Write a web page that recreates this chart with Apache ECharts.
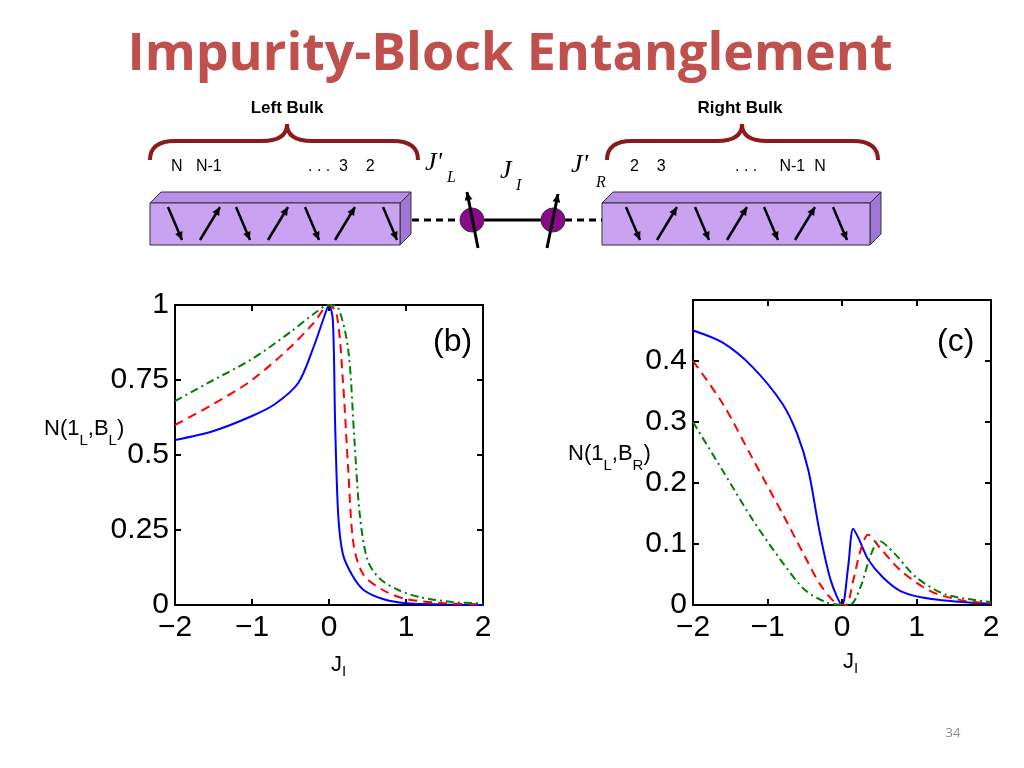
<!DOCTYPE html>
<html><head><meta charset="utf-8">
<script src="https://cdn.jsdelivr.net/npm/echarts@6/dist/echarts.min.js"></script>
<style>html,body{margin:0;padding:0;background:#fff}#c{width:1024px;height:768px}</style>
</head><body><div id="c"></div>
<script>
// Panel (b): N(1_L,B_L) vs J_I
const bBlue = [[-2,0.55],[-1.5,0.58],[-1,0.63],[-0.7,0.67],[-0.4,0.74],[-0.2,0.86],[-0.05,0.97],[0,1.0],[0.05,0.95],[0.08,0.6],[0.12,0.3],[0.18,0.17],[0.3,0.1],[0.45,0.05],[0.7,0.02],[1,0.006],[1.5,0.002],[2,0]];
const bRed = [[-2,0.6],[-1.5,0.67],[-1,0.75],[-0.5,0.86],[-0.2,0.94],[0,1.0],[0.1,0.97],[0.18,0.75],[0.25,0.45],[0.32,0.2],[0.45,0.1],[0.7,0.05],[1,0.02],[1.5,0.006],[2,0.002]];
const bGreen = [[-2,0.68],[-1.5,0.75],[-1,0.82],[-0.5,0.91],[-0.2,0.97],[0,1.0],[0.12,0.99],[0.25,0.85],[0.33,0.55],[0.4,0.3],[0.5,0.15],[0.65,0.09],[0.9,0.05],[1.2,0.025],[1.6,0.01],[2,0.005]];
// Panel (c): N(1_L,B_R) vs J_I
const cBlue = [[-2,0.45],[-1.6,0.43],[-1.2,0.39],[-0.8,0.33],[-0.6,0.28],[-0.45,0.22],[-0.3,0.12],[-0.15,0.04],[0,0],[0.08,0.06],[0.15,0.125],[0.22,0.11],[0.35,0.075],[0.55,0.045],[0.8,0.022],[1.2,0.01],[2,0.002]];
const cRed = [[-2,0.40],[-1.6,0.33],[-1.2,0.24],[-0.8,0.15],[-0.5,0.08],[-0.3,0.035],[-0.1,0.005],[0.05,0],[0.15,0.04],[0.25,0.09],[0.35,0.115],[0.5,0.095],[0.8,0.055],[1.2,0.022],[1.6,0.008],[2,0.003]];
const cGreen = [[-2,0.30],[-1.6,0.22],[-1.2,0.14],[-0.8,0.07],[-0.5,0.025],[-0.2,0.004],[0.1,0],[0.25,0.03],[0.38,0.08],[0.5,0.105],[0.7,0.085],[1,0.045],[1.4,0.017],[2,0.005]];

const grids = [{left:175,top:305,width:308,height:300},{left:693,top:300,width:298,height:305}];
const lab = {fontFamily:'Liberation Sans Narrow, Liberation Sans',fontSize:30,color:'#000'};
const AL={onZero:false,lineStyle:{color:'#000',width:2}};
const AT={show:true,inside:true,length:6,lineStyle:{color:'#000',width:2}};
function xAxes(g){return [
 {type:'value',gridIndex:g,min:-2,max:2,interval:1,position:'bottom',axisLine:AL,axisTick:AT,splitLine:{show:false},axisLabel:Object.assign({margin:8,formatter:v=>String(v).replace('-','\u2212')},lab)},
 {type:'value',gridIndex:g,min:-2,max:2,interval:1,position:'top',axisLine:AL,axisTick:AT,splitLine:{show:false},axisLabel:{show:false}}];}
function yAxes(g,max,int,fmt){return [
 {type:'value',gridIndex:g,min:0,max:max,interval:int,position:'left',axisLine:Object.assign({show:true},AL),axisTick:AT,splitLine:{show:false},axisLabel:Object.assign({margin:6,formatter:fmt},lab)},
 {type:'value',gridIndex:g,min:0,max:max,interval:int,position:'right',axisLine:Object.assign({show:true},AL),axisTick:AT,splitLine:{show:false},axisLabel:{show:false}}];}
function ser(data,xi,yi,color,type){return {type:'line',xAxisIndex:xi,yAxisIndex:yi,data:data,showSymbol:false,smooth:0.3,lineStyle:{color:color,width:2,type:type},z:3};}
const dashdot=[8,4,2,4];

const purple='#c9a3f2';
const g=[];
function box(x0,x1,y0,y1,d){
 g.push({type:'polygon',shape:{points:[[x0,y0],[x0+d,y0-d],[x1+d,y0-d],[x1,y0]]},style:{fill:'#b78ee8',stroke:'#333',lineWidth:1}});
 g.push({type:'polygon',shape:{points:[[x1,y0],[x1+d,y0-d],[x1+d,y1-d],[x1,y1]]},style:{fill:'#9f76d6',stroke:'#333',lineWidth:1}});
 g.push({type:'rect',shape:{x:x0,y:y0,width:x1-x0,height:y1-y0},style:{fill:purple,stroke:'#333',lineWidth:1}});
}
function arrow(x1,y1,x2,y2,w){
 g.push({type:'line',shape:{x1:x1,y1:y1,x2:x2,y2:y2},style:{stroke:'#000',lineWidth:w||2.5},z:10});
 const a=Math.atan2(y2-y1,x2-x1),L=9,s=0.45;
 g.push({type:'polygon',shape:{points:[[x2,y2],[x2-L*Math.cos(a-s),y2-L*Math.sin(a-s)],[x2-L*Math.cos(a+s),y2-L*Math.sin(a+s)]]},style:{fill:'#000'},z:10});
}
box(150,400,203,245,11);
box(602,870,203,245,11);
const lx=[175,210,243,278,312,345,390], rx=[633,667,702,737,771,805,840];
lx.forEach((x,i)=>{ if(i%2===0) arrow(x-7,207,x+7,240); else arrow(x-10,240,x+10,207); });
rx.forEach((x,i)=>{ if(i%2===0) arrow(x-7,207,x+7,240); else arrow(x-10,240,x+10,207); });
g.push({type:'line',shape:{x1:412,y1:220,x2:460,y2:220},style:{stroke:'#000',lineWidth:3,lineDash:[7,5]}});
g.push({type:'line',shape:{x1:484,y1:220,x2:541,y2:220},style:{stroke:'#000',lineWidth:3}});
g.push({type:'line',shape:{x1:565,y1:220,x2:602,y2:220},style:{stroke:'#000',lineWidth:3,lineDash:[7,5]}});
g.push({type:'circle',shape:{cx:472,cy:220,r:12},style:{fill:'#8b0a8b',stroke:'#333'},z:5});
g.push({type:'circle',shape:{cx:553,cy:220,r:12},style:{fill:'#8b0a8b',stroke:'#333'},z:5});
arrow(478,248,467,192,3); arrow(547,248,558,194,3);
const br='#8b1a1a';
function brace(x0,xm,x1){
 const st={stroke:br,lineWidth:4,fill:null};
 g.push({type:'bezierCurve',shape:{x1:x0,y1:160,cpx1:x0,cpy1:141,x2:x0+25,y2:141},style:st});
 g.push({type:'line',shape:{x1:x0+25,y1:141,x2:xm-25,y2:141},style:st});
 g.push({type:'bezierCurve',shape:{x1:xm-25,y1:141,cpx1:xm,cpy1:141,x2:xm,y2:124},style:st});
 g.push({type:'bezierCurve',shape:{x1:xm,y1:124,cpx1:xm,cpy1:141,x2:xm+25,y2:141},style:st});
 g.push({type:'line',shape:{x1:xm+25,y1:141,x2:x1-25,y2:141},style:st});
 g.push({type:'bezierCurve',shape:{x1:x1-25,y1:141,cpx1:x1,cpy1:141,x2:x1,y2:160},style:st});
}
brace(150,287,418); brace(607,742,878);
const tf={fontFamily:'Liberation Sans',fill:'#000'};
g.push({type:'text',x:287,y:108,style:Object.assign({text:'Left Bulk',fontSize:17,fontWeight:'bold',align:'center',verticalAlign:'middle'},tf)});
g.push({type:'text',x:740,y:108,style:Object.assign({text:'Right Bulk',fontSize:17,fontWeight:'bold',align:'center',verticalAlign:'middle'},tf)});
g.push({type:'text',x:171,y:167,style:Object.assign({text:'N   N-1',fontSize:16,verticalAlign:'middle'},tf)});
g.push({type:'text',x:308,y:167,style:Object.assign({text:'. . .  3    2',fontSize:16,verticalAlign:'middle'},tf)});
g.push({type:'text',x:630,y:167,style:Object.assign({text:'2    3',fontSize:16,verticalAlign:'middle'},tf)});
g.push({type:'text',x:735,y:167,style:Object.assign({text:'. . .     N-1  N',fontSize:16,verticalAlign:'middle'},tf)});
const ser_f={fontFamily:'Liberation Serif',fontStyle:'italic',fill:'#000'};
g.push({type:'text',x:425,y:150,style:Object.assign({text:"J'",fontSize:26},ser_f)});
g.push({type:'text',x:447,y:170,style:Object.assign({text:'L',fontSize:16},ser_f)});
g.push({type:'text',x:500,y:158,style:Object.assign({text:'J',fontSize:26},ser_f)});
g.push({type:'text',x:516,y:178,style:Object.assign({text:'I',fontSize:16},ser_f)});
g.push({type:'text',x:571,y:152,style:Object.assign({text:"J'",fontSize:26},ser_f)});
g.push({type:'text',x:596,y:175,style:Object.assign({text:'R',fontSize:16},ser_f)});
g.push({type:'text',x:433,y:326,style:Object.assign({text:'(b)',fontSize:32},tf),z:20});
g.push({type:'text',x:937,y:326,style:Object.assign({text:'(c)',fontSize:32},tf),z:20});
function yname(x,y,sub1,sub2){
 g.push({type:'text',x:x,y:y,style:{text:'{a|N(1}{s|'+sub1+'}{a|,B}{s|'+sub2+'}{a|)}',rich:{a:{fontSize:22,fontFamily:'Liberation Sans',verticalAlign:'bottom'},s:{fontSize:15,fontFamily:'Liberation Sans',verticalAlign:'bottom',padding:[0,0,-8,0]}},fill:'#000'}});
}
yname(44,418,'L','L'); yname(568,443,'L','R');
function jname(x,y){ g.push({type:'text',x:x,y:y,style:{text:'{a|J}{s|I}',rich:{a:{fontSize:22,fontFamily:'Liberation Sans'},s:{fontSize:15,fontFamily:'Liberation Sans',padding:[14,0,0,0]}},fill:'#000'}}); }
jname(331,650); jname(843,647);
g.push({type:'text',x:953,y:733,style:{text:'34',fontSize:13,fontFamily:'Open Sans',fill:'#8c8c8c',align:'center',verticalAlign:'middle'}});

const chart=echarts.init(document.getElementById('c'));
chart.setOption({
 animation:false,
 title:{text:'Impurity-Block Entanglement',left:505,top:24,textAlign:'center',textStyle:{fontFamily:'Open Sans',fontWeight:'bold',fontSize:52,color:'#c0504d'}},
 grid:grids,
 xAxis:[...xAxes(0),...xAxes(1)],
 yAxis:[...yAxes(0,1,0.25,v=>String(v)),...yAxes(1,0.5,0.1,v=>v>0.45?'':String(+v.toFixed(1)))],
 series:[ser(bBlue,0,0,'#0000ff','solid'),ser(bRed,0,0,'#ff0000',[9,6]),ser(bGreen,0,0,'#008000',dashdot),
         ser(cBlue,2,2,'#0000ff','solid'),ser(cRed,2,2,'#ff0000',[9,6]),ser(cGreen,2,2,'#008000',dashdot)],
 graphic:g
});
</script></body></html>
